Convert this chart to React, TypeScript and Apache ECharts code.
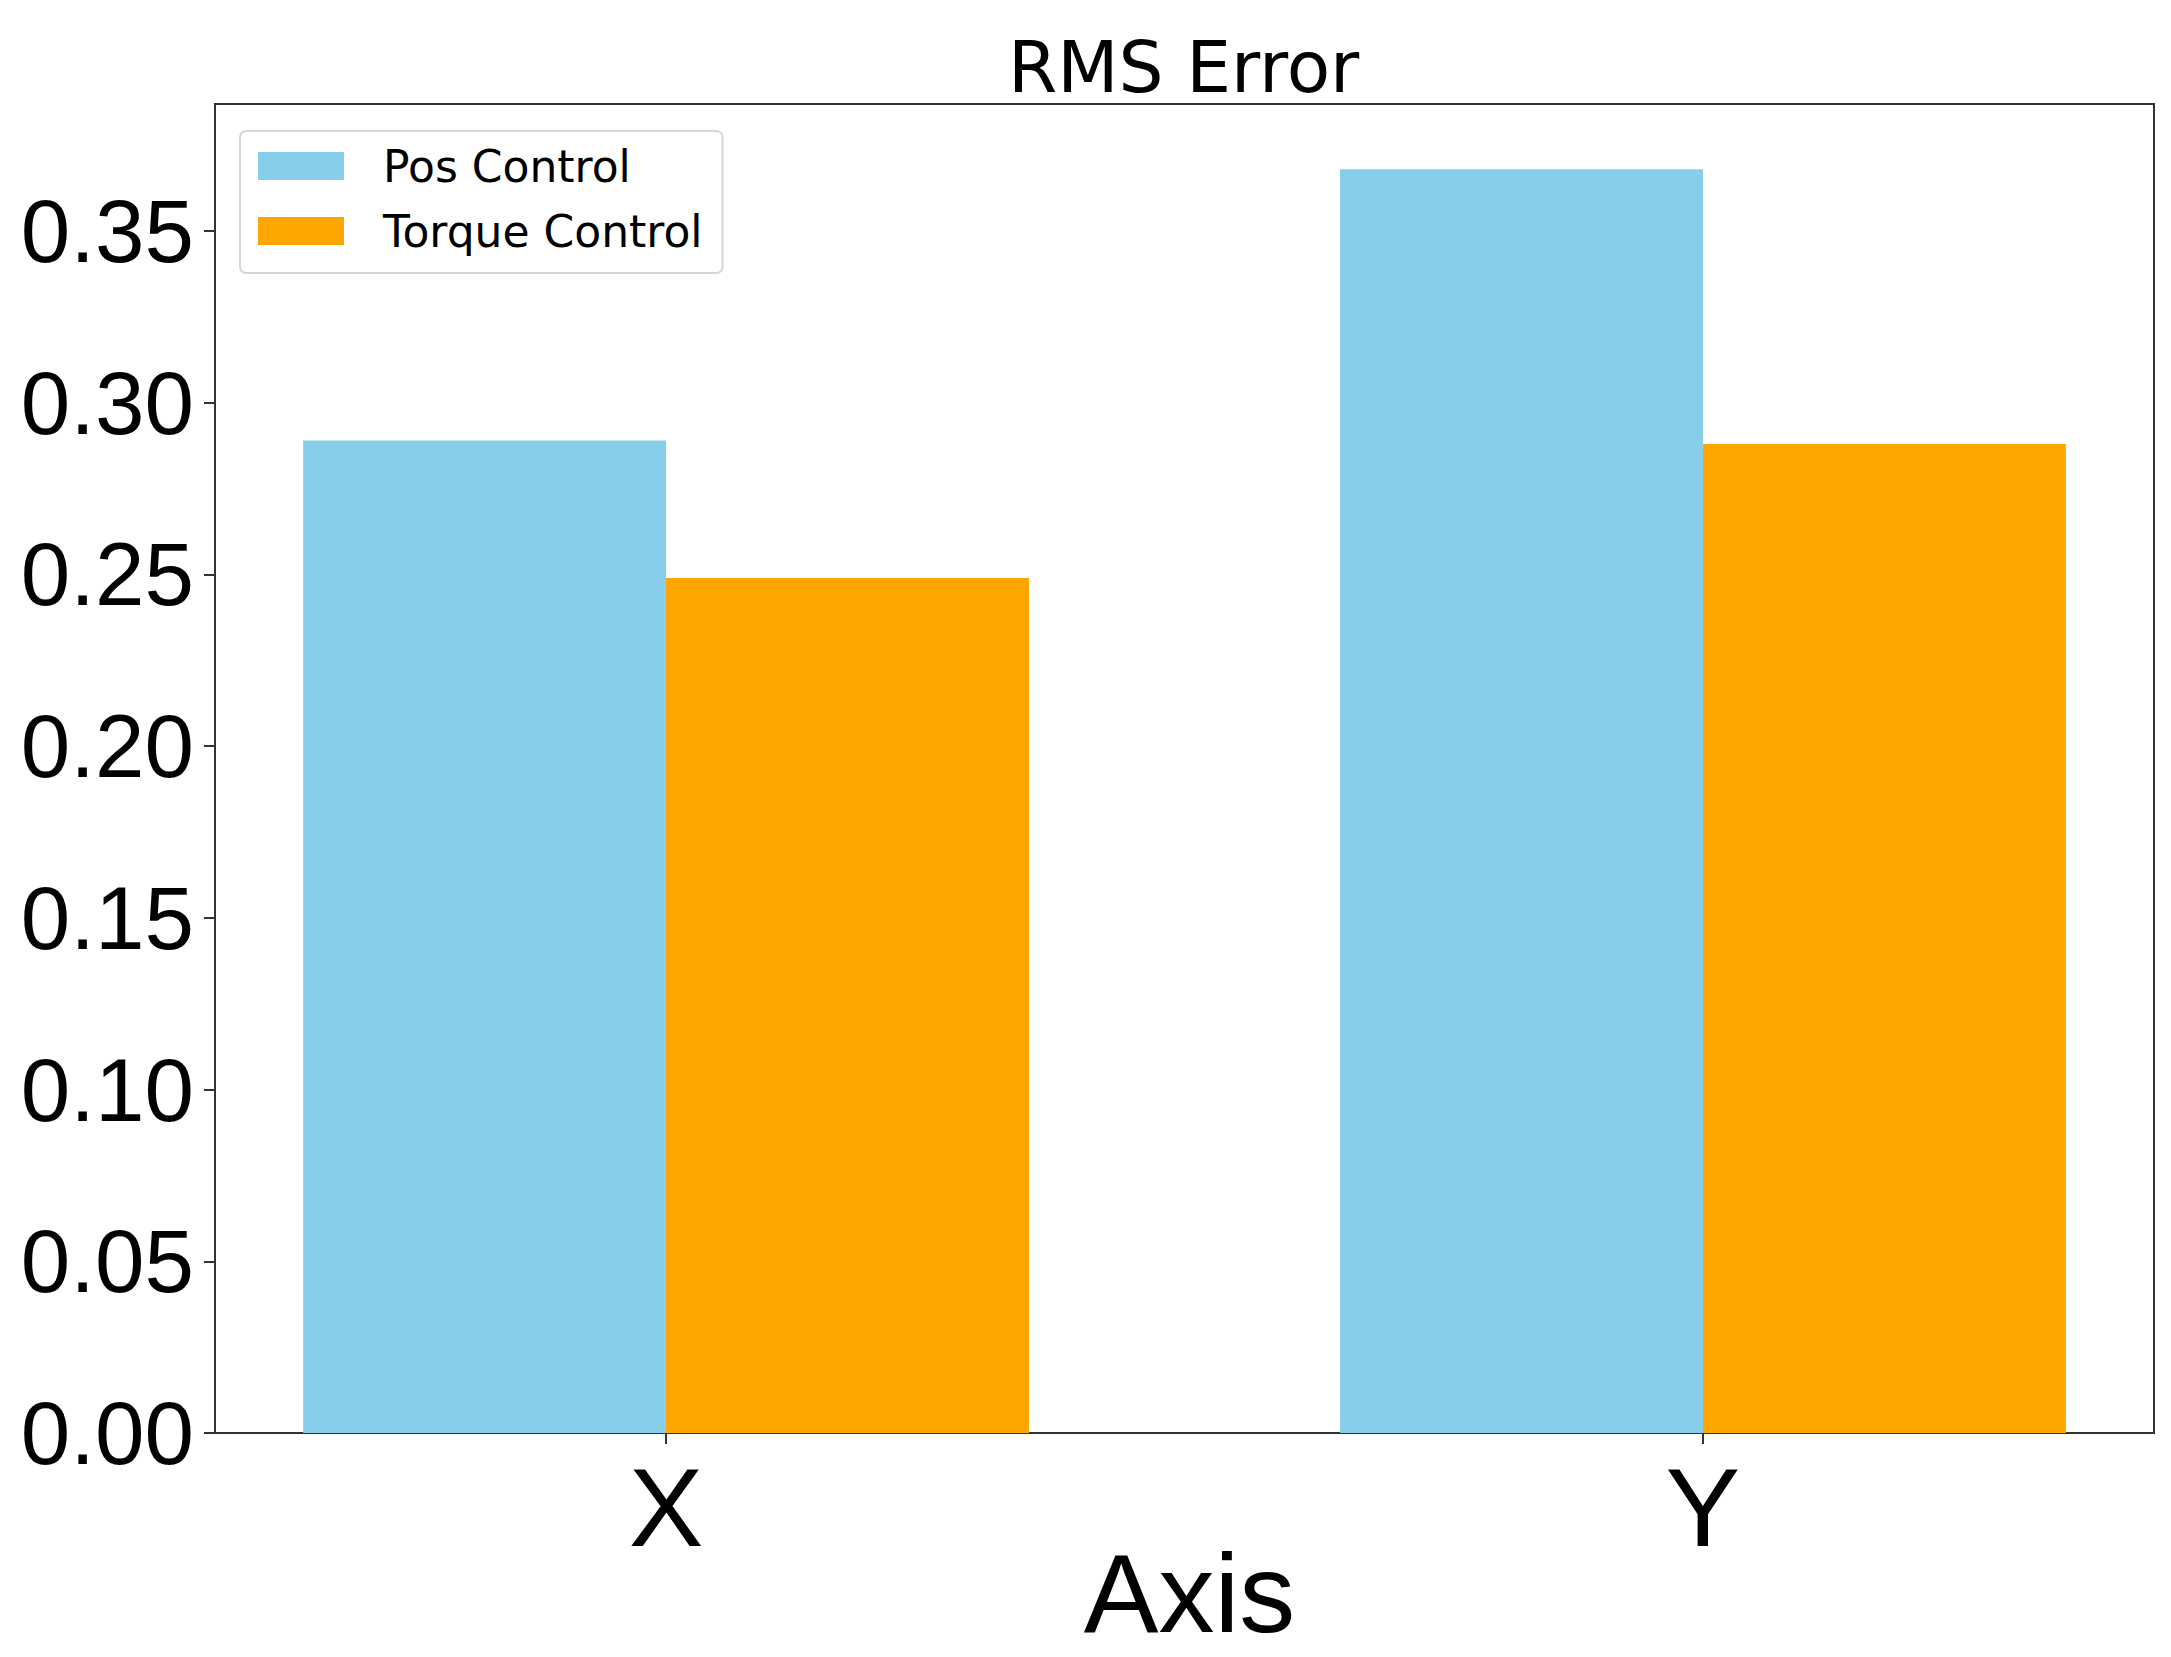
import React, { useEffect, useRef } from "react";
import * as echarts from "echarts";

const categories = ["X", "Y"];
const posControl = [0.289, 0.368];
const torqueControl = [0.249, 0.288];
const yTicks = [0, 0.05, 0.1, 0.15, 0.2, 0.25, 0.3, 0.35];
const seriesNames = ["Pos Control", "Torque Control"];

const BAR_W = 0.35;
const COLORS = ["#87CEEB", "#FFA500"];

export default function App() {
  const ref = useRef<HTMLDivElement>(null);
  useEffect(() => {
    if (!ref.current) return;
    const chart = echarts.init(ref.current, null, { renderer: "svg" });
    const makeRender = (offsetDir: number) => (params: any, api: any) => {
      const x = api.value(0);
      const v = api.value(1);
      const x0 = offsetDir < 0 ? x - BAR_W : x;
      const x1 = offsetDir < 0 ? x : x + BAR_W;
      const p0 = api.coord([x0, v]);
      const p1 = api.coord([x1, 0]);
      return {
        type: "rect",
        shape: { x: p0[0], y: p0[1], width: p1[0] - p0[0], height: p1[1] - p0[1] },
        style: { fill: api.visual("color") },
      };
    };
    const axisColor = "#333";
    chart.setOption({
      animation: false,
      backgroundColor: "#fff",
      title: {
        text: "RMS Error",
        left: 1008,
        top: 32,
        padding: 0,
        textStyle: { fontFamily: "DejaVu Sans", fontSize: 71, fontWeight: "normal", color: "#000" },
      },
      legend: {
        left: 240,
        top: 131,
        orient: "vertical",
        padding: [13, 20, 20, 18],
        itemGap: 21,
        itemWidth: 86,
        itemHeight: 28,
        backgroundColor: "#fff",
        borderColor: "#d6d6d6",
        borderWidth: 2,
        borderRadius: 6,
        data: seriesNames.map((n) => ({ name: n, icon: "rect" })),
        textStyle: { fontFamily: "DejaVu Sans", fontSize: 44, color: "#000", padding: [0, 0, 0, 34] },
      },
      grid: {
        left: 215,
        right: 17,
        top: 104,
        bottom: 224,
        show: true,
        borderColor: axisColor,
        borderWidth: 2,
        containLabel: false,
        outerBoundsMode: "none",
      },
      xAxis: {
        type: "value",
        min: -0.435,
        max: 1.435,
        name: "Axis",
        nameLocation: "middle",
        nameGap: 110,
        nameMoveOverlap: false,
        nameTextStyle: {
          fontFamily: "Liberation Sans",
          fontSize: 112,
          lineHeight: 100,
          color: "#000",
          padding: [0, 0, 0, 10],
        },
        axisLine: { show: true, onZero: false, lineStyle: { color: axisColor, width: 2 } },
        axisTick: { show: true, length: 11, customValues: [0, 1], lineStyle: { color: axisColor, width: 2 } },
        axisLabel: {
          customValues: [0, 1],
          margin: 18,
          fontFamily: "Liberation Sans",
          fontSize: 112,
          color: "#000",
          formatter: (v: number) => categories[Math.round(v)] ?? "",
        },
        splitLine: { show: false },
      },
      yAxis: {
        type: "value",
        min: 0,
        max: 0.387,
        axisLine: { show: true, onZero: false, lineStyle: { color: axisColor, width: 2 } },
        axisTick: { show: true, length: 11, customValues: yTicks, lineStyle: { color: axisColor, width: 2 } },
        axisLabel: {
          customValues: yTicks,
          margin: 21,
          fontFamily: "Liberation Sans",
          fontSize: 89,
          color: "#000",
          formatter: (v: number) => v.toFixed(2),
        },
        splitLine: { show: false },
      },
      series: [
        {
          name: seriesNames[0],
          type: "custom",
          itemStyle: { color: COLORS[0] },
          renderItem: makeRender(-1),
          encode: { x: 0, y: 1 },
          data: posControl.map((v, i) => [i, v]),
        },
        {
          name: seriesNames[1],
          type: "custom",
          itemStyle: { color: COLORS[1] },
          renderItem: makeRender(1),
          encode: { x: 0, y: 1 },
          data: torqueControl.map((v, i) => [i, v]),
        },
      ],
    });
    return () => chart.dispose();
  }, []);
  return (
    <div
      ref={ref}
      style={{ position: "absolute", left: 0, top: 0, width: 2171, height: 1657 }}
    />
  );
}
